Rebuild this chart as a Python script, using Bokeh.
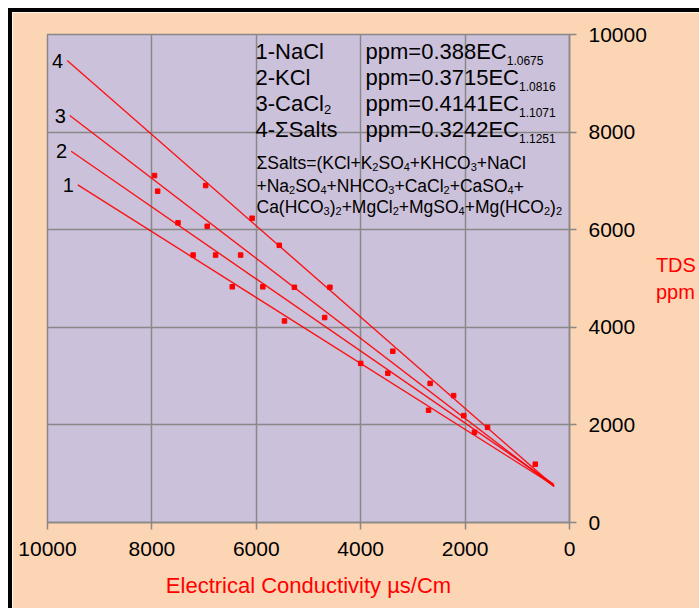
from bokeh.plotting import figure
from bokeh.models import Label, FixedTicker, Range1d
from bokeh.embed import file_html
from bokeh.resources import INLINE
from bokeh.core.properties import value

# ---------------- data ----------------
ec_points = [7950, 7890, 6970, 7500, 6940, 6080, 5560, 7210, 6780, 6300,
             6460, 5875, 5270, 4590, 5460, 4690, 3385, 4000, 3480, 2670,
             2220, 2700, 2025, 1820, 1570, 655]
tds_points = [7110, 6790, 6905, 6140, 6070, 6235, 5680, 5480, 5480, 5480,
              4830, 4830, 4820, 4820, 4130, 4200, 3510, 3260, 3060, 2850,
              2600, 2300, 2190, 1850, 1950, 1195]

line_names = ["1", "2", "3", "4"]
line_ec = [[9420, 300], [9546, 300], [9573, 300], [9623, 290]]
line_tds = [[6919, 760], [7608, 780], [8339, 740], [9466, 740]]

salt_labels = ["1-NaCl", "2-KCl", "3-CaCl_2", "4-\u03a3Salts"]
coefficients = ["0.388", "0.3715", "0.4141", "0.3242"]
exponents = ["1.0675", "1.0816", "1.1071", "1.1251"]
sum_rows = ["\u03a3Salts=(KCl+K_2SO_4+KHCO_3+NaCl",
            "+Na_2SO_4+NHCO_3+CaCl_2+CaSO_4+",
            "Ca(HCO_3)_2+MgCl_2+MgSO_4+Mg(HCO_2)_2"]

x_ticks = [0, 2000, 4000, 6000, 8000, 10000]
y_ticks = [0, 2000, 4000, 6000, 8000, 10000]
x_title = "Electrical Conductivity \u00b5s/Cm"
y_title = "TDS\nppm"

# ---------------- styling ----------------
FONT = "Liberation Sans"
PEACH = "#FCD5B5"
LAVENDER = "#CCC1DA"
GRID = "#888888"
RED = "#FF0000"

# frame in page pixels: left 47, right 569, top 34, bottom 522
FL, FR, FT, FB = 47, 569, 34, 522


def dx(px):
    return 10000 - (px - FL) * 10000 / (FR - FL)


def dy(py):
    return (FB - py) * 10000 / (FB - FT)


W = {' ': 278, '(': 333, ')': 333, '+': 584, '-': 333, '.': 278, '=': 584, '/': 278,
     'A': 667, 'B': 667, 'C': 722, 'D': 722, 'E': 667, 'F': 611, 'G': 778, 'H': 722,
     'I': 278, 'K': 667, 'L': 556, 'M': 833, 'N': 722, 'O': 778, 'P': 667, 'S': 667,
     'T': 611, 'a': 556, 'c': 500, 'd': 556, 'e': 556, 'g': 556, 'i': 222, 'l': 222,
     'm': 833, 'n': 556, 'o': 556, 'p': 556, 'r': 333, 's': 500, 't': 278, 'u': 556,
     'v': 500, 'y': 500, '\u03a3': 618}


def tw(s, size):
    return sum(W.get(c, 556) for c in s) * size / 1000.0


def parse(s):
    parts, buf, i = [], "", 0
    while i < len(s):
        if s[i] == "_":
            if buf:
                parts.append((buf, False))
                buf = ""
            if s[i + 1] == "{":
                j = s.index("}", i)
                parts.append((s[i + 2:j], True))
                i = j + 1
            else:
                parts.append((s[i + 1], True))
                i += 2
        else:
            buf += s[i]
            i += 1
    if buf:
        parts.append((buf, False))
    return parts


p = figure(frame_width=FR - FL, frame_height=FB - FT,
           x_range=Range1d(10000, 0), y_range=Range1d(0, 10000),
           y_axis_location="right", output_backend="svg", toolbar_location=None,
           min_border_left=FL - 12, min_border_right=699 - FR, min_border_top=FT - 12,
           min_border_bottom=608 - FB,
           background_fill_color=LAVENDER, border_fill_color=PEACH)
p.styles = {"margin-left": "8px", "margin-top": "8px", "border-left": "4px solid black",
            "border-top": "4px solid black", "box-sizing": "content-box"}

p.outline_line_color = GRID
p.outline_line_width = 1.5

for ax, ticks in ((p.xaxis[0], x_ticks), (p.yaxis[0], y_ticks)):
    ax.ticker = FixedTicker(ticks=ticks)
    ax.axis_line_color = GRID
    ax.axis_line_width = 1.5
    ax.major_tick_line_color = GRID
    ax.major_tick_line_width = 1.5
    ax.major_tick_out = 7
    ax.major_tick_in = 0
    ax.minor_tick_line_color = None
    ax.major_label_text_font = FONT
    ax.major_label_text_font_size = "21px"
    ax.major_label_text_color = "black"
    ax.major_label_standoff = 12
    ax.axis_label_text_font = FONT
    ax.axis_label_text_font_style = "normal"
    ax.axis_label_text_color = RED

p.xaxis.axis_label = x_title
p.xaxis.axis_label_text_font_size = "22px"
p.xaxis.axis_label_standoff = 14

p.yaxis.axis_label = y_title
p.yaxis.axis_label_orientation = "horizontal"
p.yaxis.axis_label_text_font_size = "20px"
p.yaxis.axis_label_standoff = 6

p.xgrid.ticker = FixedTicker(ticks=x_ticks)
p.ygrid.ticker = FixedTicker(ticks=y_ticks)
for g in (p.xgrid[0], p.ygrid[0]):
    g.grid_line_color = GRID
    g.grid_line_width = 1.5

# lines and points
p.multi_line(xs=line_ec, ys=line_tds, line_color=RED, line_width=1.4, line_alpha=0.9)
p.scatter(ec_points, tds_points, marker="square", size=4.5, color=RED)
p.text(x=[l[0] for l in line_ec], y=[t[0] for t in line_tds], text=line_names,
       text_align="right", text_baseline="middle", x_offset=-4,
       text_font=value(FONT), text_font_size=value("20px"), text_color="black")


def rich(s, px, py, size, sub_size, sub_drop, color="black"):
    x = px
    for txt, sub in parse(s):
        fs = sub_size if sub else size
        yy = py + (sub_drop if sub else 0)
        p.add_layout(Label(x=dx(x), y=dy(yy), text=txt, text_font=FONT,
                           text_font_size=f"{fs}px", text_baseline="alphabetic",
                           text_align="left", text_color=color))
        x += tw(txt, fs)


row_base = [51, 77, 103, 129]
for i in range(4):
    rich(salt_labels[i], 255, row_base[i], 22, 13, 6)
    rich("ppm=" + coefficients[i] + "EC_{" + exponents[i] + "}", 365, row_base[i], 22, 12, 9)

sum_base = [162.5, 185.5, 206]
for i, r in enumerate(sum_rows):
    rich(r, 256, sum_base[i], 17.5, 11, 4)

open("out.html", "w").write(file_html(p, INLINE))
